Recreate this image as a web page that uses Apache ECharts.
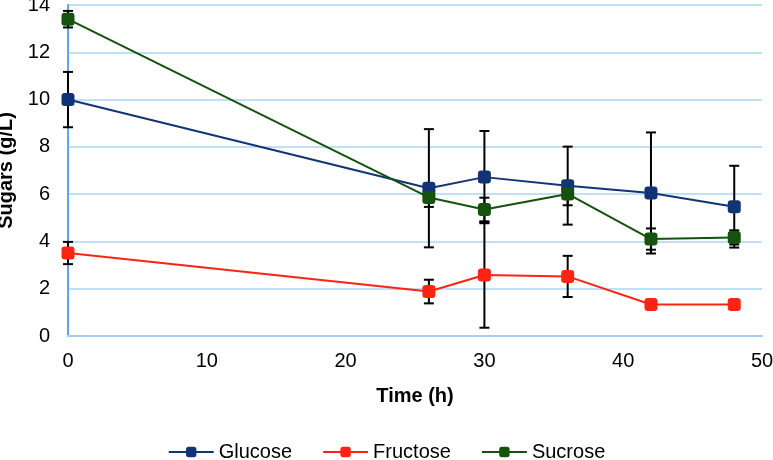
<!DOCTYPE html>
<html>
<head>
<meta charset="utf-8">
<script src="https://cdn.jsdelivr.net/npm/echarts@6/dist/echarts.min.js"></script>
<style>
  html, body { margin: 0; padding: 0; background: #fff; }
  #chart { width: 773px; height: 460px; }
</style>
</head>
<body>
<div id="chart"></div>
<script>
// time points (h)
var times = [0, 26, 30, 36, 42, 48];
// sugar concentrations (g/L) and error bar half-widths
var glucose = [10.0, 6.25, 6.72, 6.36, 6.05, 5.47];
var glucoseErr = [1.17, 2.5, 1.95, 1.65, 2.56, 1.73];
var fructose = [3.51, 1.88, 2.58, 2.52, 1.33, 1.33];
var fructoseErr = [0.47, 0.5, 2.23, 0.87, 0.1, 0.1];
var sucrose = [13.4, 5.86, 5.35, 6.01, 4.10, 4.17];
var sucroseErr = [0.35, 0.4, 0.5, 0.48, 0.45, 0.3];

var colors = { Glucose: '#123476', Fructose: '#ff2412', Sucrose: '#15520d' };
var font = 'Liberation Sans, Arial, sans-serif';

function pairs(vals) {
  return times.map(function (t, i) { return [t, vals[i]]; });
}

function errData(vals, errs) {
  return times.map(function (t, i) { return [t, vals[i] - errs[i], vals[i] + errs[i]]; });
}

// draws a vertical bar with caps for each point
function renderErr(params, api) {
  var lo = api.coord([api.value(0), api.value(1)]);
  var hi = api.coord([api.value(0), api.value(2)]);
  var half = 5;
  var style = { stroke: '#000', lineWidth: 2 };
  return {
    type: 'group',
    children: [
      { type: 'line', shape: { x1: lo[0], y1: lo[1], x2: hi[0], y2: hi[1] }, style: style },
      { type: 'line', shape: { x1: lo[0] - half, y1: lo[1], x2: lo[0] + half, y2: lo[1] }, style: style },
      { type: 'line', shape: { x1: hi[0] - half, y1: hi[1], x2: hi[0] + half, y2: hi[1] }, style: style }
    ]
  };
}

function lineSeries(name, vals) {
  return {
    name: name,
    type: 'line',
    data: pairs(vals),
    symbol: 'roundRect',
    symbolSize: 13,
    z: 3,
    lineStyle: { color: colors[name], width: 2 },
    itemStyle: { color: colors[name] }
  };
}

function errSeries(vals, errs) {
  return {
    type: 'custom',
    renderItem: renderErr,
    data: errData(vals, errs),
    encode: { x: 0, y: [1, 2] },
    z: 2,
    silent: true
  };
}

var chart = echarts.init(document.getElementById('chart'));
chart.setOption({
  animation: false,
  backgroundColor: '#fff',
  grid: { left: 68, right: 11, top: 5, bottom: 124, outerBoundsMode: 'none', containLabel: false },
  xAxis: {
    type: 'value',
    min: 0, max: 50, interval: 10,
    name: 'Time (h)',
    nameLocation: 'middle',
    nameGap: 50,
    nameTextStyle: { fontFamily: font, fontSize: 20, fontWeight: 'bold', color: '#000' },
    axisLine: { lineStyle: { color: '#9fd0f2', width: 2 } },
    axisTick: { show: false },
    splitLine: { show: false },
    axisLabel: { fontFamily: font, fontSize: 20, color: '#000', margin: 15 }
  },
  yAxis: {
    type: 'value',
    min: 0, max: 14, interval: 2,
    name: 'Sugars (g/L)',
    nameLocation: 'middle',
    nameGap: 47,
    nameTextStyle: { fontFamily: font, fontSize: 20, fontWeight: 'bold', color: '#000' },
    axisLine: { show: true, lineStyle: { color: '#5aa8ee', width: 2 } },
    axisTick: { show: false },
    splitLine: { lineStyle: { color: '#bfe1f7', width: 2 } },
    axisLabel: { fontFamily: font, fontSize: 20, color: '#000', margin: 18 }
  },
  legend: {
    bottom: -7,
    left: 'center',
    itemGap: 30,
    itemWidth: 45,
    itemHeight: 13,
    textStyle: { fontFamily: font, fontSize: 20, color: '#000' },
    data: ['Glucose', 'Fructose', 'Sucrose']
  },
  series: [
    errSeries(glucose, glucoseErr),
    errSeries(fructose, fructoseErr),
    errSeries(sucrose, sucroseErr),
    lineSeries('Glucose', glucose),
    lineSeries('Fructose', fructose),
    lineSeries('Sucrose', sucrose)
  ]
});
</script>
</body>
</html>
